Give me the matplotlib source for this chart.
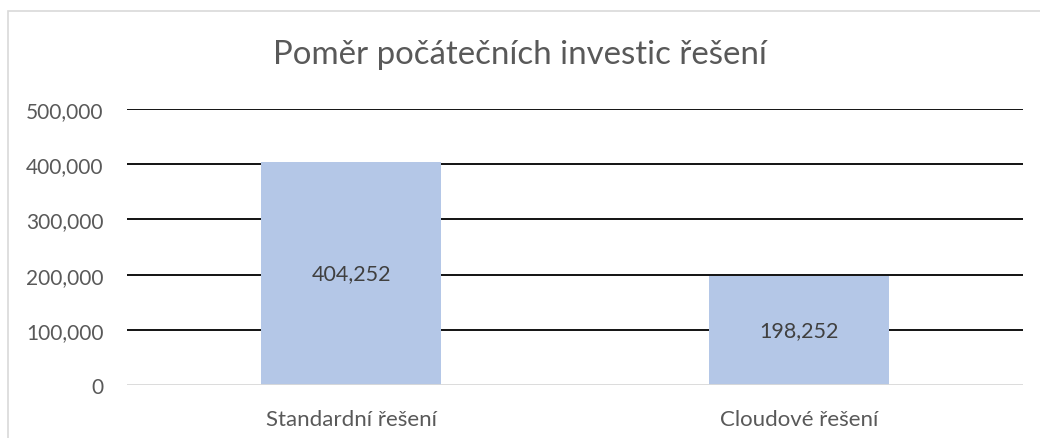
import matplotlib.pyplot as plt
from matplotlib.patches import Rectangle
from matplotlib.ticker import FuncFormatter

categories = ["Standardní řešení", "Cloudové řešení"]
values = [404252, 198252]
y_ticks = [0, 100000, 200000, 300000, 400000, 500000]

plt.rcParams['font.family'] = ['Lato', 'DejaVu Sans']

fig = plt.figure(figsize=(10.4, 4.39), dpi=100)
ax = fig.add_axes([127 / 1040, 1 - 386 / 439, 896 / 1040, 276 / 439])

# chart border (cut off on the right and bottom like the original)
fig.patches.append(Rectangle((8 / 1040, -0.1), 1.2, 1.1 - 12 / 439,
                             transform=fig.transFigure, fill=False,
                             edgecolor='#D9D9D9', linewidth=1.2))

x = range(len(categories))
bars = ax.bar(x, values, width=0.402, color='#B4C7E7', zorder=3)

ax.set_xlim(-0.5, 1.5)
ax.set_ylim(0, 500000)
ax.set_yticks(y_ticks)
ax.yaxis.set_major_formatter(FuncFormatter(lambda v, p: f"{int(v):,}"))
ax.set_xticks(list(x))
ax.set_xticklabels(categories)

for y in y_ticks[1:]:
    ax.axhline(y, color='black', linewidth=1.3, zorder=2)
ax.axhline(0, color='#D9D9D9', linewidth=1.3, zorder=4)

for s in ax.spines.values():
    s.set_visible(False)
ax.tick_params(axis='both', length=0, labelcolor='#595959')
ax.tick_params(axis='y', pad=17, labelsize=15)
ax.tick_params(axis='x', pad=17, labelsize=16)

for b, v in zip(bars, values):
    ax.text(b.get_x() + b.get_width() / 2, v / 2, f"{v:,}", ha='center',
            va='center', fontsize=15.5, color='#404040', zorder=5)

fig.text(0.5, 1 - 55 / 439, "Poměr počátečních investic řešení", ha='center',
         va='center', fontsize=23.8, color='#595959')

fig.savefig("out.png", dpi=100)
